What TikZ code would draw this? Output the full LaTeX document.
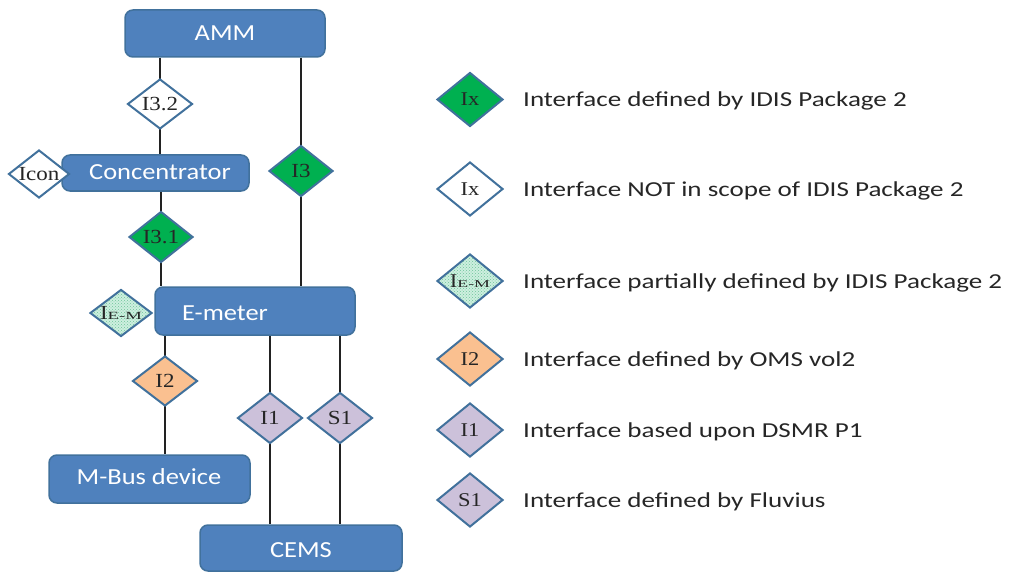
\documentclass[tikz,border=0pt]{standalone}
\usepackage{fontspec}
\setmainfont{Carlito}
\newfontfamily\boxfont[FakeStretch=1.15]{Carlito}
\newfontfamily\legfont[FakeStretch=1.27]{Carlito}
\newfontfamily\dfont[FakeStretch=1.15]{Liberation Serif}
\newfontfamily\dwide[FakeStretch=1.7]{Liberation Serif}
\usetikzlibrary{shapes.geometric,patterns,backgrounds}
\definecolor{boxblue}{HTML}{4F81BD}
\definecolor{boxedge}{HTML}{41719C}
\definecolor{dedge}{HTML}{41719C}
\definecolor{dgreen}{HTML}{00B050}
\definecolor{dorange}{HTML}{FAC090}
\definecolor{dlav}{HTML}{CCC1DA}
\definecolor{mintc}{HTML}{CDEFDF}
\definecolor{mintd}{HTML}{6FC49A}
\definecolor{lineclr}{HTML}{222222}
\definecolor{txtclr}{HTML}{262626}
\begin{document}
\begin{tikzpicture}[x=1pt,y=-1pt,
  blk/.style={draw=boxedge,line width=1.5pt,fill=boxblue,rounded corners=8pt,inner sep=0pt},
  btxt/.style={text=white,font=\boxfont\fontsize{23}{23}\selectfont,inner sep=0pt},
  dia/.style={diamond,draw=dedge,line width=2pt,inner sep=0pt,minimum width=64pt,minimum height=51pt},
  ldia/.style={diamond,draw=dedge,line width=2pt,inner sep=0pt,minimum width=66pt,minimum height=54pt},
  dlab/.style={font=\dfont\fontsize{20}{20}\selectfont,text=txtclr},
  llab/.style={font=\dfont\fontsize{19.5}{19.5}\selectfont,text=txtclr},
  gr/.style={fill=dgreen},
  wh/.style={fill=white},
  orng/.style={fill=dorange},
  lav/.style={fill=dlav},
  mint/.style={preaction={fill=mintc},pattern=crosshatch dots,pattern color=mintd},
  conn/.style={draw=lineclr,line width=2.8pt},
  legt/.style={anchor=west,inner sep=0pt,text=txtclr,font=\legfont\fontsize{21.3}{21.3}\selectfont}
]
\useasboundingbox (0,0) rectangle (1011,572);

% boxes
\node[blk,minimum width=200pt,minimum height=47pt] (amm) at (225,33.5) {};
\node[btxt] (ammt) at (225,33) {AMM};
\node[blk,minimum width=187pt,minimum height=36pt] (conc) at (155.5,173) {};
\node[btxt] (conct) at (160,172) {Concentrator};
\node[blk,minimum width=200pt,minimum height=48pt] (em) at (255,311) {};
\node[btxt] (emt) at (225,313) {E-meter};
\node[blk,minimum width=201pt,minimum height=48pt] (mbus) at (149.5,479) {};
\node[btxt] (mbust) at (149,477) {M-Bus device};
\node[blk,minimum width=202pt,minimum height=46pt] (cems) at (301,548) {};
\node[btxt] (cemst) at (301,550) {CEMS};

% interface diamonds
\node[dia,wh,minimum width=65pt,minimum height=50pt] (i32) at (160,104) {};
\node[dlab] at (i32) {I3.2};
\node[dia,gr] (i3) at (301,171) {};
\node[dlab] at (i3) {I3};
\node[dia,gr] (i31) at (161,237) {};
\node[dlab] at (i31) {I3.1};
\node[dia,wh,minimum width=61pt,minimum height=48pt] (icon) at (39,174) {};
\node[dlab] at (icon) {Icon};
\node[dia,mint,minimum width=62pt,minimum height=47pt] (iem) at (121,313) {};
\node[dlab] at (iem) {I\raisebox{0pt}{\dwide\fontsize{11}{11}\selectfont E-M}};
\node[dia,orng,minimum width=65pt,minimum height=50pt] (i2) at (165,381) {};
\node[dlab] at (i2) {I2};
\node[dia,lav,minimum width=65pt] (i1) at (270,418) {};
\node[dlab] at (i1) {I1};
\node[dia,lav,minimum width=65pt] (s1) at (340,418) {};
\node[dlab] at (s1) {S1};

% connectors
\begin{scope}[on background layer]
\draw[conn] (i32 |- amm.south) -- (i32 |- conc.north);
\draw[conn] (i31 |- conc.south) -- (i31 |- em.north);
\draw[conn] (i3 |- amm.south) -- (i3 |- em.north);
\draw[conn] (i2 |- em.south) -- (i2 |- mbus.north);
\draw[conn] (i1 |- em.south) -- (i1 |- cems.north);
\draw[conn] (s1 |- em.south) -- (s1 |- cems.north);
\end{scope}

% legend
\node[ldia,gr] (l1) at (470,99.5) {};
\node[llab] at (l1) {Ix};
\node[legt] (t1) at (523,101) {Interface defined by IDIS Package 2};
\node[ldia,wh] (l2) at (470,189) {};
\node[llab] at (l2) {Ix};
\node[legt] (t2) at (523,190.5) {Interface NOT in scope of IDIS Package 2};
\node[ldia,mint] (l3) at (470,281) {};
\node[llab] at (l3) {I\raisebox{0pt}{\dwide\fontsize{10.5}{10.5}\selectfont E-M}};
\node[legt] (t3) at (523,282.5) {Interface partially defined by IDIS Package 2};
\node[ldia,orng] (l4) at (470,359) {};
\node[llab] at (l4) {I2};
\node[legt] (t4) at (523,360.5) {Interface defined by OMS vol2};
\node[ldia,lav] (l5) at (470,430) {};
\node[llab] at (l5) {I1};
\node[legt] (t5) at (523,431.5) {Interface based upon DSMR P1};
\node[ldia,lav] (l6) at (470,500) {};
\node[llab] at (l6) {S1};
\node[legt] (t6) at (523,501.5) {Interface defined by Fluvius};
\end{tikzpicture}
\end{document}
